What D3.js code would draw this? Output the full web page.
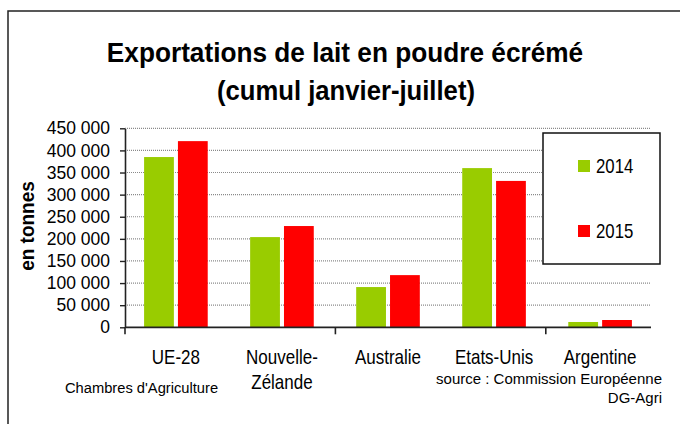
<!DOCTYPE html>
<html>
<head>
<meta charset="utf-8">
<script src="https://cdn.jsdelivr.net/npm/d3@7"></script>
<style>
  html, body { margin: 0; padding: 0; background: #fff; }
  svg { display: block; font-family: "Liberation Sans", Arial, sans-serif; }
</style>
</head>
<body>
<svg id="chart" width="680" height="424"></svg>
<script>
// data
const categories = ['UE-28', 'Nouvelle-Zélande', 'Australie', 'Etats-Unis', 'Argentine'];
const categoryLines = [['UE-28'], ['Nouvelle-', 'Zélande'], ['Australie'], ['Etats-Unis'], ['Argentine']];
const series = ['2014', '2015'];
const values2014 = [385000, 204000, 91000, 360000, 12000];
const values2015 = [421000, 229000, 118000, 331000, 16500];
const yTicks = [0, 50000, 100000, 150000, 200000, 250000, 300000, 350000, 400000, 450000];
const colors = ['#99cc00', '#ff0000'];

const svg = d3.select('#chart');
const plot = { left: 125, right: 651, top: 128.3, bottom: 327.3 };

// Excel-ish narrow text: scale glyphs horizontally around the anchor
const narrow = (sel, x, y, sx) => sel.attr('transform', `translate(${x},${y}) scale(${sx},1)`);

// outer frame (runs off the right and bottom of the picture)
svg.append('rect')
    .attr('x', 8).attr('y', 11)
    .attr('width', 720).attr('height', 460)
    .attr('fill', '#fff')
    .attr('stroke', '#222')
    .attr('stroke-width', 1.5);

// title
const title = svg.append('g').attr('font-weight', 'bold').attr('font-size', 28.5).attr('fill', '#000');
title.append('text').attr('text-anchor', 'middle')
    .call(narrow, 345, 62, 0.92)
    .text('Exportations de lait en poudre écrémé');
title.append('text').attr('text-anchor', 'middle')
    .call(narrow, 346, 100, 0.9)
    .text('(cumul janvier-juillet)');

const x0 = d3.scaleBand()
    .domain(categories)
    .range([plot.left, plot.right])
    .paddingInner(0.4)
    .paddingOuter(0.18);
const x1 = d3.scaleBand()
    .domain(series)
    .range([0, x0.bandwidth()])
    .paddingInner(0.12);
const y = d3.scaleLinear()
    .domain([0, 450000])
    .range([plot.bottom, plot.top]);

const fmt = d3.formatLocale({ decimal: ',', thousands: '\u00a0', grouping: [3], currency: ['', '€'] }).format(',d');

// gridlines
svg.append('g')
    .selectAll('line')
    .data(yTicks.filter(d => d > 0))
    .join('line')
    .attr('x1', plot.left).attr('x2', plot.right)
    .attr('y1', d => y(d)).attr('y2', d => y(d))
    .attr('stroke', '#8a8a8a')
    .attr('stroke-width', 1.2)
    .attr('stroke-dasharray', '1,1');

// bars
const rows = categories.map((c, i) => ({ c, vals: [values2014[i], values2015[i]] }));
svg.append('g')
    .selectAll('g')
    .data(rows)
    .join('g')
    .attr('transform', d => `translate(${x0(d.c)},0)`)
    .selectAll('rect')
    .data(d => d.vals.map((v, j) => ({ s: series[j], v, j })))
    .join('rect')
    .attr('x', d => x1(d.s))
    .attr('width', x1.bandwidth())
    .attr('y', d => y(d.v))
    .attr('height', d => y(0) - y(d.v))
    .attr('fill', d => colors[d.j]);

// y axis
const yAxis = svg.append('g')
    .attr('transform', `translate(${plot.left},0)`)
    .call(d3.axisLeft(y).tickValues(yTicks).tickFormat(fmt).tickSize(5).tickSizeOuter(0).tickPadding(10));
yAxis.select('.domain').attr('stroke', '#222').attr('stroke-width', 1.6);
yAxis.selectAll('.tick line').attr('stroke', '#222').attr('stroke-width', 1.4);
yAxis.selectAll('.tick text')
    .attr('font-family', '"Liberation Sans", Arial, sans-serif')
    .attr('font-size', 17.5)
    .attr('fill', '#000');

// x axis: baseline + a tick every second category boundary
const step = (plot.right - plot.left) / categories.length;
const boundaries = d3.range(0, categories.length, 2).map(i => plot.left + i * step);
const xAxis = svg.append('g');
xAxis.append('line')
    .attr('x1', plot.left).attr('x2', plot.right)
    .attr('y1', y(0)).attr('y2', y(0))
    .attr('stroke', '#222').attr('stroke-width', 1.8);
xAxis.selectAll('line.tk')
    .data(boundaries)
    .join('line')
    .attr('class', 'tk')
    .attr('x1', d => d).attr('x2', d => d)
    .attr('y1', y(0)).attr('y2', y(0) + 7)
    .attr('stroke', '#222').attr('stroke-width', 1.6);

// category labels
const labels = svg.append('g').attr('font-size', 20).attr('fill', '#000');
categories.forEach((c, i) => {
    const cx = x0(c) + x0.bandwidth() / 2;
    categoryLines[i].forEach((ln, k) => {
        labels.append('text')
            .attr('text-anchor', 'middle')
            .call(narrow, cx, 364 + k * 25, 0.85)
            .text(ln);
    });
});

// y label
svg.append('text')
    .attr('font-weight', 'bold')
    .attr('font-size', 20)
    .attr('text-anchor', 'middle')
    .attr('transform', 'translate(34,226) rotate(-90) scale(0.95,1)')
    .text('en tonnes');

// legend
const legend = svg.append('g');
legend.append('rect')
    .attr('x', 543).attr('y', 133)
    .attr('width', 117).attr('height', 131)
    .attr('fill', '#fff')
    .attr('stroke', '#111').attr('stroke-width', 1.5);
const legendY = d3.scalePoint().domain(series).range([166, 231]);
series.forEach((s, i) => {
    legend.append('rect')
        .attr('x', 578).attr('y', legendY(s) - 6)
        .attr('width', 12).attr('height', 12)
        .attr('fill', colors[i]);
    legend.append('text')
        .attr('font-size', 20)
        .call(narrow, 596, legendY(s) + 7, 0.84)
        .text(s);
});

// footnotes
const notes = svg.append('g').attr('fill', '#000').attr('font-size', 15);
notes.append('text')
    .call(narrow, 65, 393, 0.98)
    .text("Chambres d'Agriculture");
notes.append('text')
    .attr('text-anchor', 'end')
    .call(narrow, 662, 384, 1)
    .text('source : Commission Européenne');
notes.append('text')
    .attr('text-anchor', 'end')
    .call(narrow, 662, 403, 1)
    .text('DG-Agri');
</script>
</body>
</html>
